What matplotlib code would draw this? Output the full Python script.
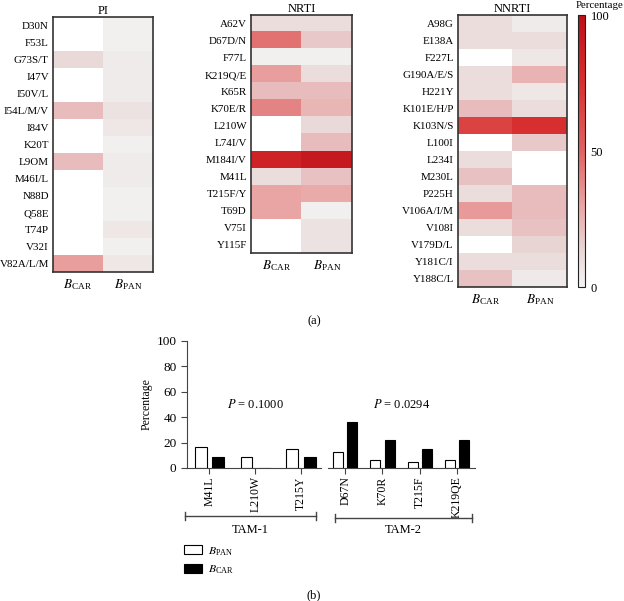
import numpy as np
import matplotlib
matplotlib.use("Agg")
import matplotlib.pyplot as plt
from matplotlib.colors import LinearSegmentedColormap
from matplotlib.patches import Patch

plt.rcParams['font.family'] = ['Liberation Serif', 'DejaVu Serif']
plt.rcParams['mathtext.fontset'] = 'stix'

nan = np.nan
# ---------------- data ----------------
groups = ["B_CAR", "B_PAN"]
col_labels = [r"$B_{\mathregular{CAR}}$", r"$B_{\mathregular{PAN}}$"]

pi_mut = ["D30N", "F53L", "G73S/T", "I47V", "I50V/L", "I54L/M/V", "I84V", "K20T",
          "L9OM", "M46I/L", "N88D", "Q58E", "T74P", "V32I", "V82A/L/M"]
pi_car = [nan, nan, 12, nan, nan, 22, nan, nan, 22, nan, nan, nan, nan, nan, 32]
pi_pan = [2, 2, 4, 4, 4, 8, 6, 2, 4, 4, 2, 2, 6, 2, 6]

nrti_mut = ["A62V", "D67D/N", "F77L", "K219Q/E", "K65R", "K70E/R", "L210W", "L74I/V",
            "M184I/V", "M41L", "T215F/Y", "T69D", "V75I", "Y115F"]
nrti_car = [10, 45, 2, 32, 22, 40, nan, nan, 85, 10, 30, 30, nan, nan]
nrti_pan = [10, 18, 2, 10, 22, 24, 12, 22, 92, 20, 28, 2, 8, 8]

nnrti_mut = ["A98G", "E138A", "F227L", "G190A/E/S", "H221Y", "K101E/H/P", "K103N/S",
             "L100I", "L234I", "M230L", "P225H", "V106A/I/M", "V108I", "V179D/L",
             "Y181C/I", "Y188C/L"]
nnrti_car = [10, 10, nan, 10, 10, 22, 65, nan, 10, 20, 10, 33, 10, nan, 10, 20]
nnrti_pan = [4, 10, 6, 25, 6, 10, 75, 18, nan, nan, 22, 22, 20, 14, 10, 5]

tam1_mut = ["M41L", "L210W", "T215Y"]
tam1_pan = [16.7, 8.3, 14.6]
tam1_car = [8.3, 0, 8.3]
tam2_mut = ["D67N", "K70R", "T215F", "K219QE"]
tam2_pan = [12.5, 6.3, 4.7, 6.3]
tam2_car = [36.4, 22.0, 15.0, 22.0]
p_tam1 = "0.1000"
p_tam2 = "0.0294"

# ---------------- figure ----------------
W, H = 624, 601
fig = plt.figure(figsize=(W / 100, H / 100), dpi=100)

def rect(x0, y0, x1, y1):
    return [x0 / W, 1 - y1 / H, (x1 - x0) / W, (y1 - y0) / H]

cmap = LinearSegmentedColormap.from_list(
    "pct", [(0.0, "#f4f4f4"), (0.15, "#e8d2d2"), (0.3, "#eaa4a4"),
            (0.5, "#e06262"), (0.75, "#d83030"), (1.0, "#bd0f18")])
cmap.set_bad("white")

fs = 8.5

def heat(box, title, muts, car, pan):
    ax = fig.add_axes(rect(*box))
    data = np.ma.masked_invalid(np.array([car, pan], dtype=float).T)
    im = ax.imshow(data, cmap=cmap, vmin=0, vmax=100, aspect="auto",
                   interpolation="nearest")
    ax.set_yticks(range(len(muts)))
    ax.set_yticklabels(muts, fontsize=7.9)
    ax.set_xticks([0, 1])
    ax.set_xticklabels(col_labels, fontsize=fs + 1)
    ax.tick_params(length=0, pad=3)
    ax.tick_params(axis="x", pad=4)
    for s in ax.spines.values():
        s.set_color("#333333")
        s.set_linewidth(1.2)
    ax.set_title(title, fontsize=fs + 0.5, pad=2)
    return im

heat((53, 17, 153, 272), "PI", pi_mut, pi_car, pi_pan)
heat((251, 15, 352, 253), "NRTI", nrti_mut, nrti_car, nrti_pan)
im = heat((458, 15, 567, 287), "NNRTI", nnrti_mut, nnrti_car, nnrti_pan)

cax = fig.add_axes(rect(578, 15, 585, 287))
cb = fig.colorbar(im, cax=cax, ticks=[0, 50, 100])
cb.ax.tick_params(labelsize=fs + 0.5, length=0, pad=4)
cb.outline.set_edgecolor("#222222")
cb.outline.set_linewidth(0.8)
fig.text(623 / W, 1 - 5 / H, "Percentage", fontsize=7.8, ha="right", va="center")

fig.text(314 / W, 1 - 321 / H, "(a)", fontsize=fs + 0.5, ha="center", va="center")
fig.text(314 / W, 1 - 595 / H, "(b)", fontsize=fs + 0.5, ha="center", va="center")

# ---------------- bar chart ----------------
ax1 = fig.add_axes(rect(187, 341, 321, 468))
ax2 = fig.add_axes(rect(328, 341, 475, 468))

def bars(ax, muts, pan, car, off, w, xlim):
    x = np.arange(len(muts))
    ax.bar(x - off, pan, w, color="white", edgecolor="black", linewidth=0.8)
    ax.bar(x + off, car, w, color="black", edgecolor="black", linewidth=0.8)
    ax.set_xticks(x)
    ax.set_xticklabels(muts, rotation=90, fontsize=fs)
    ax.set_xlim(*xlim)
    ax.set_ylim(0, 100)
    ax.spines["top"].set_visible(False)
    ax.spines["right"].set_visible(False)
    ax.spines["bottom"].set_color("#444444")
    ax.spines["left"].set_color("#444444")
    ax.tick_params(axis="x", length=4, direction="out", color="#444444", pad=2)

bars(ax1, tam1_mut, tam1_pan, tam1_car, 0.19, 0.26, (-0.49, 2.44))
bars(ax2, tam2_mut, tam2_pan, tam2_car, 0.19, 0.27, (-0.46, 3.48))
ax1.set_yticks(range(0, 101, 20))
ax1.tick_params(axis="y", labelsize=fs + 1, length=4, color="#444444")
ax1.set_ylabel("Percentage", fontsize=fs, labelpad=3)
ax2.spines["left"].set_visible(False)
ax2.set_yticks([])

ax1.text(1.0, 50, r"$P$ = " + p_tam1, fontsize=fs + 0.5, ha="center", va="center")
ax2.text(1.5, 50, r"$P$ = " + p_tam2, fontsize=fs + 0.5, ha="center", va="center")

def bracket(ax, x0, x1, y, label, ylab):
    kw = dict(transform=ax.transAxes, clip_on=False, color="#444444", lw=1.0)
    ax.plot([x0, x1], [y, y], **kw)
    ax.plot([x0, x0], [y - 0.03, y + 0.03], **kw)
    ax.plot([x1, x1], [y - 0.03, y + 0.03], **kw)
    ax.text((x0 + x1) / 2, ylab, label, transform=ax.transAxes, ha="center",
            va="center", fontsize=fs + 0.5)

bracket(ax1, -0.015, 0.963, -0.378, "TAM-1", -0.49)
bracket(ax2, 0.048, 0.98, -0.394, "TAM-2", -0.49)

handles = [Patch(facecolor="white", edgecolor="black", linewidth=0.8),
           Patch(facecolor="black", edgecolor="black", linewidth=0.8)]
ax1.legend(handles, [r"$B_{\mathregular{PAN}}$", r"$B_{\mathregular{CAR}}$"],
           loc="upper left", bbox_to_anchor=(184 / W, 1 - 545 / H),
           bbox_transform=fig.transFigure, frameon=False, fontsize=fs,
           handlelength=1.5, handleheight=0.8, labelspacing=0.5,
           borderpad=0, borderaxespad=0, handletextpad=0.5)

fig.savefig("out.png", dpi=100)
